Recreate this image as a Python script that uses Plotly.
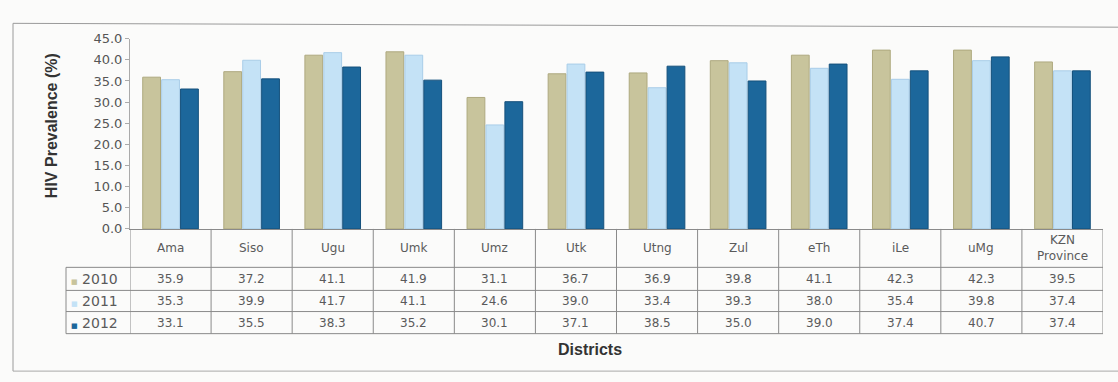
import plotly.graph_objects as go

districts = ["Ama", "Siso", "Ugu", "Umk", "Umz", "Utk", "Utng", "Zul", "eTh", "iLe", "uMg", "KZN Province"]
district_labels = ["Ama", "Siso", "Ugu", "Umk", "Umz", "Utk", "Utng", "Zul", "eTh", "iLe", "uMg", "KZN<br>Province"]
years = ["2010", "2011", "2012"]
v2010 = [35.9, 37.2, 41.1, 41.9, 31.1, 36.7, 36.9, 39.8, 41.1, 42.3, 42.3, 39.5]
v2011 = [35.3, 39.9, 41.7, 41.1, 24.6, 39.0, 33.4, 39.3, 38.0, 35.4, 39.8, 37.4]
v2012 = [33.1, 35.5, 38.3, 35.2, 30.1, 37.1, 38.5, 35.0, 39.0, 37.4, 40.7, 37.4]
series = [v2010, v2011, v2012]
colors = ["#c8c49c", "#c4e2f6", "#1c679b"]
line_colors = ["#aea97f", "#a9cde8", "#15517c"]
y_ticks = [0, 5, 10, 15, 20, 25, 30, 35, 40, 45]

W, H = 1118, 382
def px(x):
    return x / W
def py(y):
    return 1 - y / H

fig = go.Figure()
for yr, vals, c, lc_ in zip(years, series, colors, line_colors):
    fig.add_trace(go.Bar(x=districts, y=vals, name=yr, marker=dict(color=c, line=dict(color=lc_, width=1)),
                         showlegend=False))

font = "Liberation Sans, Arial, sans-serif"
wfont = "DejaVu Sans, Verdana, sans-serif"
shapes = []
annotations = []
lc = "#8a8a8a"
t_top, h_bot, r1, r2, r3 = 231, 271, 295, 317, 340
lab_left, x_left, x_right = 66, 130, 1103
for yy in [h_bot, r1, r2, r3]:
    shapes.append(dict(type="line", xref="paper", yref="paper", x0=px(lab_left), x1=px(x_right),
                       y0=py(yy), y1=py(yy), line=dict(color=lc, width=1)))
shapes.append(dict(type="line", xref="paper", yref="paper", x0=px(lab_left), x1=px(lab_left),
                   y0=py(h_bot), y1=py(r3), line=dict(color=lc, width=1)))
for i in range(len(districts) + 1):
    shapes.append(dict(type="line", xref="x", yref="paper", x0=i - 0.5, x1=i - 0.5,
                       y0=py(t_top), y1=py(r3), line=dict(color=lc, width=1)))
shapes.append(dict(type="line", xref="paper", yref="paper", x0=px(13), x1=1, y0=py(17), y1=py(21),
                   line=dict(color="#9a9a9a", width=1)))
shapes.append(dict(type="line", xref="paper", yref="paper", x0=px(13), x1=px(13), y0=py(17), y1=py(379),
                   line=dict(color="#9a9a9a", width=1)))
shapes.append(dict(type="line", xref="paper", yref="paper", x0=px(13), x1=1, y0=py(379), y1=py(379),
                   line=dict(color="#a8a8a8", width=1)))

tfont = dict(family=wfont, size=12, color="#5a5a5a")
for name, lab in zip(districts, district_labels):
    annotations.append(dict(x=name, xref="x", y=py((t_top + h_bot) / 2), yref="paper", text=lab,
                            xanchor="center", yanchor="middle", showarrow=False,
                            font=dict(family=wfont, size=12, color="#5a5a5a")))
row_centers = [(h_bot + r1) / 2, (r1 + r2) / 2, (r2 + r3) / 2]
for yr, vals, c, yc in zip(years, series, colors, row_centers):
    annotations.append(dict(x=px(69), xref="paper", y=py(yc), yref="paper", xanchor="left", yanchor="middle",
                            text=f"<span style='color:{c};font-size:7px'>■</span> {yr}", showarrow=False,
                            font=dict(family=wfont, size=14, color="#5a5a5a")))
    for name, v in zip(districts, vals):
        annotations.append(dict(x=name, xref="x", y=py(yc), yref="paper", text=f"{v:.1f}",
                                xanchor="center", yanchor="middle", showarrow=False, font=tfont))

annotations.append(dict(x=px(590), xref="paper", y=py(356), yref="paper", text="<b>Districts</b>",
                        xanchor="center", yanchor="middle", showarrow=False,
                        font=dict(family=font, size=16, color="#333")))
annotations.append(dict(x=px(51), xref="paper", y=py(124), yref="paper", text="<b>HIV Prevalence (%)</b>",
                        xanchor="center", yanchor="middle", textangle=-90, showarrow=False,
                        font=dict(family=font, size=16, color="#333")))

fig.update_layout(
    width=W, height=H, margin=dict(l=0, r=0, t=0, b=0),
    paper_bgcolor="#fbfbfa", plot_bgcolor="#fbfbfa",
    barmode="group", bargap=0.3, bargroupgap=0.06,
    xaxis=dict(domain=[px(x_left), px(x_right)], range=[-0.5, len(districts) - 0.5], showticklabels=False,
               showline=True, linecolor=lc, showgrid=False, zeroline=False, fixedrange=True),
    yaxis=dict(domain=[py(231), py(33)], range=[0, 45], tickvals=y_ticks, tickformat=".1f",
               showline=True, linecolor="#aaa", ticks="outside", ticklen=4, tickcolor="#aaa",
               showgrid=False, zeroline=False, fixedrange=True,
               tickfont=dict(family=wfont, size=13, color="#555")),
    shapes=shapes, annotations=annotations,
)
fig.write_html("out.html", config={"displayModeBar": False},
               post_script="document.body.style.margin='0';document.body.style.overflow='hidden';")
